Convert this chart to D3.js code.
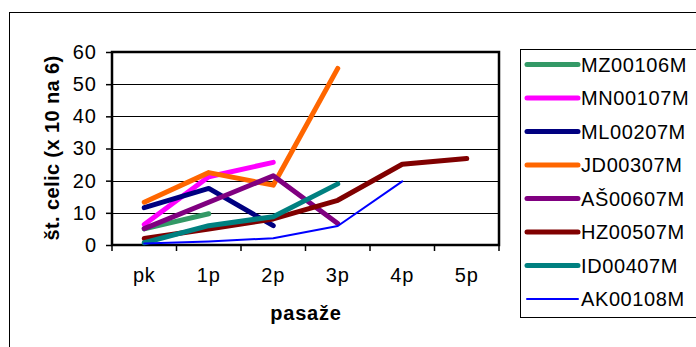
<!DOCTYPE html>
<html>
<head>
<meta charset="utf-8">
<script src="https://cdn.jsdelivr.net/npm/d3@7"></script>
<style>
  html, body { margin: 0; padding: 0; background: #fff; }
  svg { display: block; font-family: "Liberation Sans", Arial, sans-serif; }
</style>
</head>
<body>
<svg id="chart" width="696" height="347"></svg>
<script>
// Passages (x categories)
const categories = ["pk", "1p", "2p", "3p", "4p", "5p"];

// Cell counts per sample (x 10^6); null = not measured
const seriesNames = ["MZ00106M", "MN00107M", "ML00207M", "JD00307M", "AŠ00607M", "HZ00507M", "ID00407M", "AK00108M"];
const MZ00106M = [5.0, 9.7, null, null, null, null];
const MN00107M = [6.4, 21.2, 25.7, null, null, null];
const ML00207M = [11.6, 17.6, 6.0, null, null, null];
const JD00307M = [13.3, 22.5, 18.6, 54.9, null, null];
const AS00607M = [5.1, 13.3, 21.5, 6.7, null, null];
const HZ00507M = [2.0, 5.0, 8.1, 13.9, 25.1, 26.9];
const ID00407M = [0.7, 6.0, 8.8, 19.0, null, null];
const AK00108M = [0.5, 1.1, 2.1, 5.9, 19.8, null];
const seriesValues = [MZ00106M, MN00107M, ML00207M, JD00307M, AS00607M, HZ00507M, ID00407M, AK00108M];
const seriesColors = ["#339966", "#FF00FF", "#000080", "#FF6600", "#800080", "#800000", "#008080", "#0000FF"];
const seriesWidths = [5, 5, 5, 5, 5, 5, 5, 2];

const yTicks = [0, 10, 20, 30, 40, 50, 60];
const yTitle = "št. celic (x 10 na 6)";
const xTitle = "pasaže";

const svg = d3.select("#chart");
const plot = { left: 112, top: 52, right: 499, bottom: 245 };

// Outer chart frame
svg.append("rect")
  .attr("x", 9.5).attr("y", 12.5)
  .attr("width", 700).attr("height", 400)
  .attr("fill", "none").attr("stroke", "#000").attr("stroke-width", 1);

const x = d3.scaleBand().domain(categories).range([plot.left, plot.right]);
const y = d3.scaleLinear().domain([0, 60]).range([plot.bottom, plot.top]);

// Gridlines
svg.append("g").selectAll("line")
  .data(yTicks.filter(t => t > 0 && t < 60))
  .join("line")
  .attr("x1", plot.left).attr("x2", plot.right)
  .attr("y1", d => Math.round(y(d)) + 0.5).attr("y2", d => Math.round(y(d)) + 0.5)
  .attr("stroke", "#000").attr("stroke-width", 1);

// Y axis
const yAxis = svg.append("g")
  .attr("transform", `translate(${plot.left},0)`)
  .call(d3.axisLeft(y).tickValues(yTicks).tickSize(6).tickPadding(9));
yAxis.select(".domain").remove();
yAxis.selectAll(".tick line").attr("stroke", "#000").attr("stroke-width", 1.5);
yAxis.selectAll(".tick text")
  .attr("font-size", "20px").attr("fill", "#000")
  .attr("letter-spacing", "1px")
  .attr("font-family", "Liberation Sans, Arial, sans-serif");

// X axis: tick marks on category boundaries
const xAxisG = svg.append("g");
const bounds = categories.map(c => x(c)).concat([plot.right]);
xAxisG.selectAll("line")
  .data(bounds)
  .join("line")
  .attr("x1", d => d).attr("x2", d => d)
  .attr("y1", plot.bottom).attr("y2", plot.bottom + 6)
  .attr("stroke", "#000").attr("stroke-width", 1.5);
xAxisG.selectAll("text")
  .data(categories)
  .join("text")
  .attr("x", d => x(d) + x.bandwidth() / 2)
  .attr("y", 282)
  .attr("text-anchor", "middle")
  .attr("font-size", "20px")
  .attr("letter-spacing", "0.8px")
  .text(d => d);

// Plot area border
svg.append("rect")
  .attr("x", plot.left).attr("y", plot.top)
  .attr("width", plot.right - plot.left).attr("height", plot.bottom - plot.top)
  .attr("fill", "none").attr("stroke", "#000").attr("stroke-width", 2.5);

// Series lines
const line = d3.line()
  .defined(d => d.v != null)
  .x(d => x(d.c) + x.bandwidth() / 2)
  .y(d => y(d.v));

svg.append("g").selectAll("path")
  .data(seriesValues.map((vals, i) => ({ i, pts: vals.map((v, j) => ({ c: categories[j], v })) })))
  .join("path")
  .attr("d", d => line(d.pts))
  .attr("fill", "none")
  .attr("stroke", d => seriesColors[d.i])
  .attr("stroke-width", d => seriesWidths[d.i])
  .attr("stroke-linecap", "round")
  .attr("stroke-linejoin", "round");

// Axis titles
svg.append("text")
  .attr("transform", "translate(59,148) rotate(-90)")
  .attr("text-anchor", "middle")
  .attr("font-size", "20px").attr("font-weight", "bold")
  .attr("letter-spacing", "0.4px")
  .text(yTitle);
svg.append("text")
  .attr("x", 306).attr("y", 320)
  .attr("text-anchor", "middle")
  .attr("font-size", "20px").attr("font-weight", "bold")
  .attr("letter-spacing", "0.8px")
  .text(xTitle);

// Legend
svg.append("rect")
  .attr("x", 520.5).attr("y", 49.5)
  .attr("width", 200).attr("height", 268)
  .attr("fill", "#fff").attr("stroke", "#000").attr("stroke-width", 1);
const leg = svg.append("g").selectAll("g")
  .data(seriesNames)
  .join("g")
  .attr("transform", (d, i) => `translate(0,${64.5 + i * 33.5})`);
leg.append("line")
  .attr("x1", 527).attr("x2", 578)
  .attr("y1", 0).attr("y2", 0)
  .attr("stroke", (d, i) => seriesColors[i])
  .attr("stroke-width", (d, i) => seriesWidths[i])
  .attr("stroke-linecap", "round");
leg.append("text")
  .attr("x", 581).attr("y", 7)
  .attr("font-size", "20px")
  .attr("letter-spacing", "0.6px")
  .text(d => d);
</script>
</body>
</html>
